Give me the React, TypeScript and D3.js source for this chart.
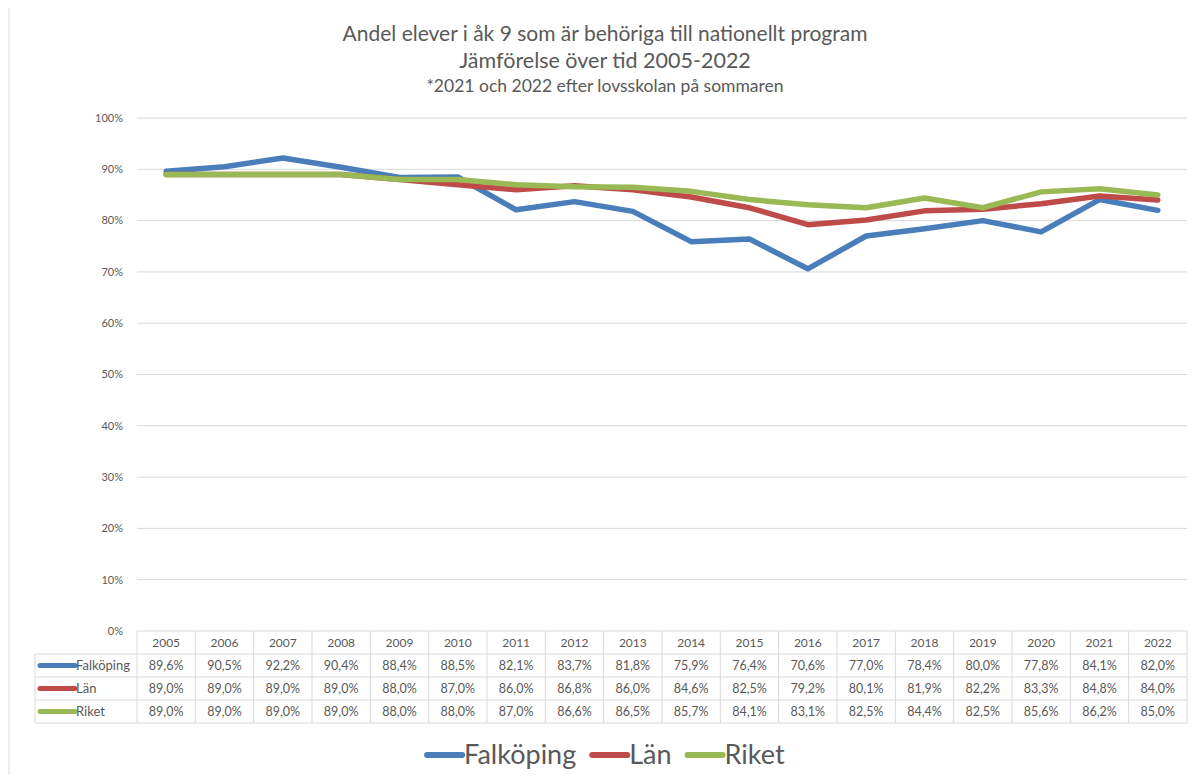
import { useRef, useEffect } from 'react';
import * as d3 from 'd3';

const years = ['2005', '2006', '2007', '2008', '2009', '2010', '2011', '2012', '2013', '2014', '2015', '2016', '2017', '2018', '2019', '2020', '2021', '2022'];
const falkoping = [89.6, 90.5, 92.2, 90.4, 88.4, 88.5, 82.1, 83.7, 81.8, 75.9, 76.4, 70.6, 77.0, 78.4, 80.0, 77.8, 84.1, 82.0];
const lan = [89.0, 89.0, 89.0, 89.0, 88.0, 87.0, 86.0, 86.8, 86.0, 84.6, 82.5, 79.2, 80.1, 81.9, 82.2, 83.3, 84.8, 84.0];
const riket = [89.0, 89.0, 89.0, 89.0, 88.0, 88.0, 87.0, 86.6, 86.5, 85.7, 84.1, 83.1, 82.5, 84.4, 82.5, 85.6, 86.2, 85.0];
const yTicks = [0, 10, 20, 30, 40, 50, 60, 70, 80, 90, 100];

const series = [
  { name: 'Falköping', values: falkoping, color: '#4a7ebb' },
  { name: 'Län', values: lan, color: '#be4b48' },
  { name: 'Riket', values: riket, color: '#98b954' },
];

const FONT = 'Lato, "Open Sans", sans-serif';
const TEXT = '#595959';

export default function App() {
  const svgRef = useRef<SVGSVGElement>(null);

  useEffect(() => {
    if (!svgRef.current) return;
    const width = 1198;
    const height = 783;
    const svg = d3.select(svgRef.current);
    svg.selectAll('*').remove();

    svg.append('rect').attr('width', width).attr('height', height).attr('fill', '#fff');
    // outer frame
    svg
      .append('rect')
      .attr('x', 9)
      .attr('y', 5)
      .attr('width', width + 10)
      .attr('height', height + 10)
      .attr('fill', 'none')
      .attr('stroke', '#e8e8e8')
      .attr('stroke-width', 1.5);

    const plot = { left: 137, right: 1187, top: 118, bottom: 631 };

    const x = d3.scaleBand().domain(years).range([plot.left, plot.right]);
    const y = d3.scaleLinear().domain([0, 100]).range([plot.bottom, plot.top]);

    // Title
    const titles = [
      { text: 'Andel elever i åk 9 som är behöriga till nationellt program', y: 41, size: 21 },
      { text: 'Jämförelse över tid 2005-2022', y: 68, size: 21.5 },
      { text: '*2021 och 2022 efter lovsskolan på sommaren', y: 92, size: 17.5 },
    ];
    titles.forEach((t) => {
      svg
        .append('text')
        .attr('x', 605)
        .attr('y', t.y)
        .attr('text-anchor', 'middle')
        .attr('fill', TEXT)
        .attr('font-family', FONT)
        .attr('font-size', t.size)
        .text(t.text);
    });

    // Grid + y ticks
    const grid = svg.append('g');
    yTicks.forEach((t) => {
      if (t > 0) {
        grid
          .append('line')
          .attr('x1', plot.left)
          .attr('x2', plot.right)
          .attr('y1', y(t))
          .attr('y2', y(t))
          .attr('stroke', '#d9d9d9')
          .attr('stroke-width', 1);
      }
      grid
        .append('text')
        .attr('x', 123)
        .attr('y', y(t))
        .attr('dy', '0.35em')
        .attr('text-anchor', 'end')
        .attr('fill', TEXT)
        .attr('font-family', FONT)
        .attr('font-size', 11)
        .text(`${t}%`);
    });

    // Lines
    const line = d3
      .line<number>()
      .x((_, i) => (x(years[i]) || 0) + x.bandwidth() / 2)
      .y((d) => y(d));

    series.forEach((s) => {
      svg
        .append('path')
        .datum(s.values)
        .attr('d', line)
        .attr('fill', 'none')
        .attr('stroke', s.color)
        .attr('stroke-width', 5.5)
        .attr('stroke-linejoin', 'round')
        .attr('stroke-linecap', 'round');
    });

    // Data table
    const rowH = 23;
    const tableTop = plot.bottom;
    const labelLeft = 35;
    const tbl = svg.append('g');
    const border = '#d9d9d9';

    // header row
    tbl
      .append('line')
      .attr('x1', plot.left)
      .attr('x2', plot.right)
      .attr('y1', tableTop)
      .attr('y2', tableTop)
      .attr('stroke', border);
    // row lines
    for (let r = 1; r <= 4; r++) {
      tbl
        .append('line')
        .attr('x1', labelLeft)
        .attr('x2', plot.right)
        .attr('y1', tableTop + r * rowH)
        .attr('y2', tableTop + r * rowH)
        .attr('stroke', border);
    }
    // vertical lines
    tbl
      .append('line')
      .attr('x1', labelLeft)
      .attr('x2', labelLeft)
      .attr('y1', tableTop + rowH)
      .attr('y2', tableTop + 4 * rowH)
      .attr('stroke', border);
    years.forEach((yr) => {
      const xx = x(yr) || 0;
      tbl
        .append('line')
        .attr('x1', xx)
        .attr('x2', xx)
        .attr('y1', tableTop)
        .attr('y2', tableTop + 4 * rowH)
        .attr('stroke', border);
    });
    tbl
      .append('line')
      .attr('x1', plot.right)
      .attr('x2', plot.right)
      .attr('y1', tableTop)
      .attr('y2', tableTop + 4 * rowH)
      .attr('stroke', border);

    // header text
    years.forEach((yr) => {
      tbl
        .append('text')
        .attr('x', (x(yr) || 0) + x.bandwidth() / 2)
        .attr('y', tableTop + rowH / 2)
        .attr('dy', '0.35em')
        .attr('text-anchor', 'middle')
        .attr('fill', TEXT)
        .attr('font-family', FONT)
        .attr('font-size', 12)
        .text(yr);
    });

    const fmt = (v: number) => d3.format('.1f')(v).replace('.', ',') + '%';

    series.forEach((s, r) => {
      const cy = tableTop + rowH * (r + 1) + rowH / 2;
      tbl
        .append('line')
        .attr('x1', 40)
        .attr('x2', 75)
        .attr('y1', cy)
        .attr('y2', cy)
        .attr('stroke', s.color)
        .attr('stroke-width', 5)
        .attr('stroke-linecap', 'round');
      tbl
        .append('text')
        .attr('x', 76)
        .attr('y', cy)
        .attr('dy', '0.35em')
        .attr('fill', TEXT)
        .attr('font-family', FONT)
        .attr('font-size', 13)
        .text(s.name);
      s.values.forEach((v, i) => {
        tbl
          .append('text')
          .attr('x', (x(years[i]) || 0) + x.bandwidth() / 2)
          .attr('y', cy)
          .attr('dy', '0.35em')
          .attr('text-anchor', 'middle')
          .attr('fill', TEXT)
          .attr('font-family', FONT)
          .attr('font-size', 12.5)
          .text(fmt(v));
      });
    });

    // Legend
    const legend = svg.append('g');
    const legendY = 755;
    const items = legend
      .selectAll('g')
      .data(series)
      .join('g');
    items
      .append('line')
      .attr('x1', 0)
      .attr('x2', 35)
      .attr('y1', 0)
      .attr('y2', 0)
      .attr('stroke', (d) => d.color)
      .attr('stroke-width', 6)
      .attr('stroke-linecap', 'round');
    items
      .append('text')
      .attr('x', 37)
      .attr('y', 0)
      .attr('dy', '0.35em')
      .attr('fill', TEXT)
      .attr('font-family', FONT)
      .attr('font-size', 27)
      .text((d) => d.name);

    // position legend items sequentially, centered
    const gap = 16;
    const widths: number[] = [];
    items.each(function () {
      widths.push((this as SVGGElement).getBBox().width);
    });
    const total = d3.sum(widths) + gap * (widths.length - 1);
    let cx = 606 - total / 2;
    items.each(function (_, i) {
      d3.select(this).attr('transform', `translate(${cx}, ${legendY})`);
      cx += widths[i] + gap;
    });
  }, []);

  return <svg ref={svgRef} width={1198} height={783} style={{ display: 'block', margin: -8 }} />;
}
